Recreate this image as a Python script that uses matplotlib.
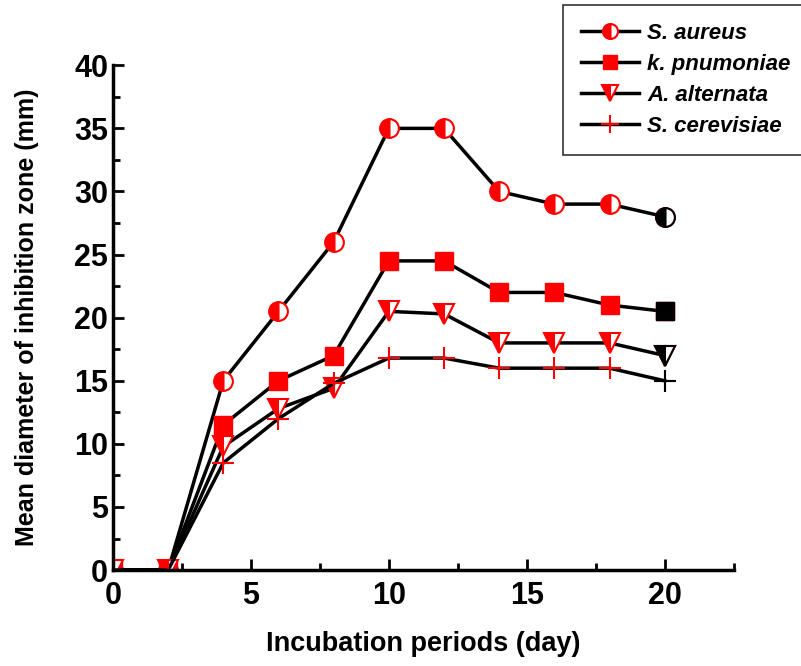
import matplotlib.pyplot as plt
from matplotlib.ticker import MultipleLocator

plt.rcParams['font.family'] = ['Liberation Sans', 'DejaVu Sans']
plt.rcParams['font.weight'] = 'bold'

days = [0, 2, 4, 6, 8, 10, 12, 14, 16, 18, 20]
s_aureus = [0, 0, 15, 20.5, 26, 35, 35, 30, 29, 29, 28]
k_pnumoniae = [0, 0, 11.5, 15, 17, 24.5, 24.5, 22, 22, 21, 20.5]
a_alternata = [0, 0, 9.8, 12.8, 14.4, 20.5, 20.3, 18, 18, 18, 17]
s_cerevisiae = [0, 0, 8.5, 12, 14.8, 16.8, 16.8, 16, 16, 16, 15]

names = ['S. aureus', 'k. pnumoniae', 'A. alternata', 'S. cerevisiae']
series = [s_aureus, k_pnumoniae, a_alternata, s_cerevisiae]
styles = [
    dict(marker='o', ms=13.5, fillstyle='left', mec='red', mfc='red', mfcalt='white', mew=1.5),
    dict(marker='s', ms=12.5, mec='red', mfc='red'),
    dict(marker='v', ms=14.5, fillstyle='left', mec='red', mfc='red', mfcalt='white', mew=1.5),
    dict(marker='+', ms=16, mec='red', mew=1.5),
]

fig = plt.figure(figsize=(8.01, 6.66), dpi=100)
ax = fig.add_axes([0.141, 0.144, 0.775, 0.758])

for name, vals, st in zip(names, series, styles):
    ax.plot(days, vals, color='black', lw=2.5, label=name, **st)
    # last point drawn in black, as in the original
    last = dict(st)
    last['mec'] = 'black'
    if 'mfc' in last:
        last['mfc'] = 'black'
    ax.plot(days[-1:], vals[-1:], color='black', lw=0, **last)

ax.set_xlim(0, 22.5)
ax.set_ylim(0, 40)
ax.xaxis.set_major_locator(MultipleLocator(5))
ax.xaxis.set_minor_locator(MultipleLocator(2.5))
ax.yaxis.set_major_locator(MultipleLocator(5))
ax.yaxis.set_minor_locator(MultipleLocator(2.5))
ax.tick_params(which='both', direction='in', width=2, labelsize=22)
ax.tick_params(which='major', length=8)
ax.tick_params(which='minor', length=5)
ax.tick_params(axis='x', pad=8)
ax.tick_params(axis='y', pad=3.5)
ax.spines['top'].set_visible(False)
ax.spines['right'].set_visible(False)
for s in ['left', 'bottom']:
    ax.spines[s].set_linewidth(2.5)

ax.set_xlabel('Incubation periods (day)', fontsize=19.5, fontweight='bold', labelpad=14)
ax.set_ylabel('Mean diameter of inhibition zone (mm)', fontsize=18, fontweight='bold', labelpad=25)

leg = fig.legend(loc='upper left', bbox_to_anchor=(563 / 801, 1 - 5 / 666),
                 prop=dict(size=16, style='italic', weight='bold'),
                 frameon=True, fancybox=False, edgecolor='black',
                 handlelength=2.6, borderpad=0.8, labelspacing=0.45,
                 handletextpad=0.4, markerscale=0.8, borderaxespad=0)
leg.get_frame().set_linewidth(1.2)

fig.savefig('out.png', dpi=100)
